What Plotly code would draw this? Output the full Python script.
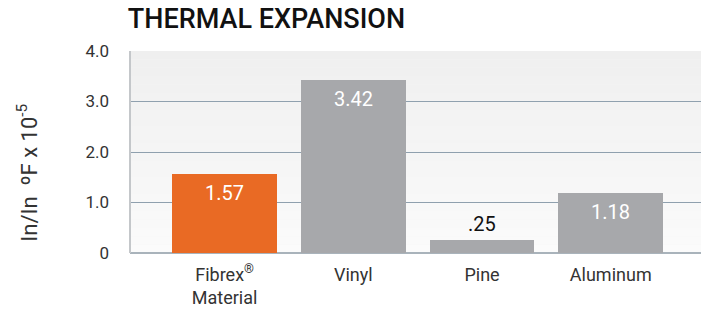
import plotly.graph_objects as go

categories = ["Fibrex<sup>®</sup><br>Material", "Vinyl", "Pine", "Aluminum"]
values = [1.57, 3.42, 0.25, 1.18]
value_labels = ["1.57", "3.42", ".25", "1.18"]
bar_colors = ["#e96a24", "#a7a8ab", "#a7a8ab", "#a7a8ab"]
label_inside = [True, True, False, True]
tick_vals = [0, 1, 2, 3, 4]
tick_text = ["0", "1.0", "2.0", "3.0", "4.0"]

FONT = "Roboto"

fig = go.Figure()
fig.add_trace(go.Bar(
    x=list(range(len(categories))), y=values,
    marker=dict(color=bar_colors, line=dict(width=0)),
    width=0.815, hoverinfo="skip",
))

# gradient background bands (styling only)
n = 24
shapes = []
top = (239, 239, 239)
bot = (251, 251, 251)
for i in range(n):
    t = i / (n - 1)
    c = tuple(round(top[k] + (bot[k] - top[k]) * t) for k in range(3))
    shapes.append(dict(type="rect", xref="paper", yref="paper",
                       x0=0, x1=1, y0=1 - (i + 1) / n, y1=1 - i / n,
                       fillcolor="rgb(%d,%d,%d)" % c, line=dict(width=0),
                       layer="below"))
# left and right frame lines
shapes.append(dict(type="line", xref="paper", yref="paper", x0=0, x1=0, y0=0, y1=1,
                   line=dict(color="#c4c7ca", width=2)))
shapes.append(dict(type="line", xref="paper", yref="paper", x0=1, x1=1, y0=0, y1=1,
                   line=dict(color="#d0d3d6", width=1)))

annotations = []
for i, (v, lab, inside) in enumerate(zip(values, value_labels, label_inside)):
    if inside:
        annotations.append(dict(x=i, y=v, text=lab, showarrow=False, yanchor="top",
                                yshift=-5, font=dict(family=FONT, size=20, color="white")))
    else:
        annotations.append(dict(x=i, y=v, text=lab, showarrow=False, yanchor="bottom",
                                yshift=2, font=dict(family=FONT, size=20, color="#111111")))

# y-axis title as a rotated annotation
annotations.append(dict(x=-0.178, y=0.40, xref="paper", yref="paper",
                        text="In/In  ºF x 10<sup>-5</sup>", textangle=-90,
                        showarrow=False, xanchor="center", yanchor="middle",
                        font=dict(family=FONT, size=22, color="#333333")))

# the page adds an 8px body margin, so the figure is sized to fit the window
fig.update_layout(
    width=701, height=303,
    margin=dict(l=122, r=3, t=43, b=58),
    paper_bgcolor="white", plot_bgcolor="#f5f5f5",
    showlegend=False,
    bargap=0,
    font=dict(family=FONT, color="#333333"),
    title=dict(text="THERMAL EXPANSION", x=0.171, xref="container", xanchor="left",
               y=0.964, yref="container", yanchor="middle",
               font=dict(family=FONT, size=27, color="#111111", weight=500)),
    xaxis=dict(range=[-0.735, 3.74], tickvals=list(range(len(categories))),
               ticktext=categories, showgrid=False, zeroline=False,
               showline=False, ticks="", automargin=False, ticklabelstandoff=9,
               tickfont=dict(family=FONT, size=18, color="#333333")),
    yaxis=dict(range=[0, 4.0], tickvals=tick_vals, ticktext=tick_text,
               showgrid=True, gridcolor="#8fa0ae", gridwidth=1,
               zeroline=True, zerolinecolor="#a9b3bb", zerolinewidth=2,
               showline=False, ticks="", ticklabelstandoff=20, automargin=False,
               tickfont=dict(family=FONT, size=17, color="#333333")),
    shapes=shapes,
    annotations=annotations,
)

fig.write_html("out.html")
